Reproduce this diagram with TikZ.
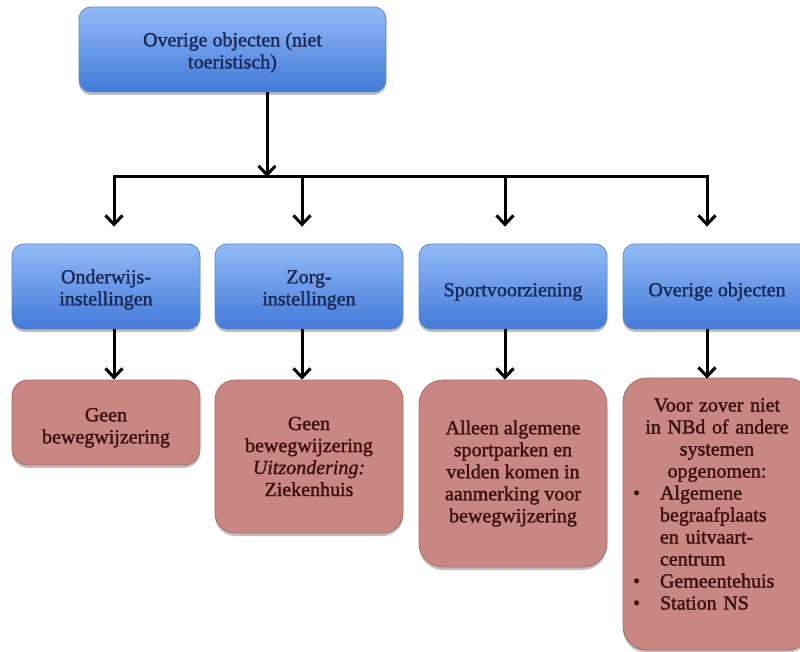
\documentclass[tikz,border=0pt]{standalone}
\usepackage{fontspec}
\setmainfont{Liberation Serif}[UprightFeatures={FakeBold=1.5},ItalicFeatures={FakeBold=1.5}]
\usetikzlibrary{arrows.meta,shadows,calc}
\definecolor{bluetop}{HTML}{92BAF6}
\definecolor{bluebot}{HTML}{427AD8}
\definecolor{blueline}{HTML}{5A86CC}
\definecolor{bluetext}{HTML}{1C2856}
\definecolor{redfill}{HTML}{C88783}
\definecolor{redline}{HTML}{A96C68}
\definecolor{redtext}{HTML}{3A1010}
\tikzset{
  bluebox/.style={rounded corners=12pt, draw=blueline, line width=0.8pt,
    top color=bluetop, bottom color=bluebot, text=bluetext, align=center,
    font=\fontsize{20}{22}\selectfont, inner sep=0pt,
    drop shadow={shadow xshift=0pt, shadow yshift=-3pt, opacity=0.35, fill=black!70}},
  redbox/.style={rounded corners=18pt, draw=redline, line width=0.8pt,
    fill=redfill, text=redtext, align=center,
    font=\fontsize{20}{22}\selectfont, inner sep=0pt, minimum width=188pt,
    drop shadow={shadow xshift=0pt, shadow yshift=-3pt, opacity=0.35, fill=black!70}},
  conn/.style={line width=3pt, black},
  arr/.style={conn, -{Straight Barb[length=9pt,width=17pt]}},
  arrs/.style={conn, {Straight Barb[length=9pt,width=17pt]}-{Straight Barb[length=9pt,width=17pt]}}
}
\begin{document}
\begin{tikzpicture}[x=1pt,y=-1pt]
\fill[white] (0,0) rectangle (800,652);
\useasboundingbox (0,0) rectangle (800,652);
% top
\node[bluebox, minimum width=307pt, minimum height=85pt] (top) at (232.5,49.5) {\rule{0pt}{20pt}Overige objecten (niet\\toeristisch)};
% blue row
\node[bluebox, minimum width=188pt, minimum height=85pt] (b1) at (106,286.5) {\rule{0pt}{20pt}Onderwijs-\\instellingen};
\node[bluebox, minimum width=188pt, minimum height=85pt] (b2) at (309,286.5) {\rule{0pt}{20pt}Zorg-\\instellingen};
\node[bluebox, minimum width=188pt, minimum height=85pt] (b3) at (513,286.5) {\rule{0pt}{24pt}Sportvoorziening};
\node[bluebox, minimum width=188pt, minimum height=85pt] (b4) at (717,286.5) {\rule{0pt}{24pt}Overige objecten};
% red row
\node[redbox, rounded corners=16pt, minimum height=85pt] (r1) at (106,422.5) {\rule{0pt}{24pt}Geen\\bewegwijzering};
\node[redbox, rounded corners=20pt, minimum height=153pt] (r2) at (309,456.5) {Geen\\bewegwijzering\\\textit{Uitzondering:}\\Ziekenhuis};
\node[redbox, rounded corners=24pt, minimum height=187pt] (r3) at (513,473.5) {Alleen algemene\\sportparken en\\velden komen in\\aanmerking voor\\bewegwijzering};
\node[redbox, rounded corners=24pt, minimum height=272pt, text width=188pt, align=left] (r4) at (717,514)
 {\makebox[\linewidth]{Voor zover niet}\\
  \makebox[\linewidth]{in NBd of andere}\\
  \makebox[\linewidth]{systemen}\\
  \makebox[\linewidth]{opgenomen:}\\
  \hspace*{10pt}\makebox[27pt][l]{\textbullet}Algemene\\
  \hspace*{37pt}begraafplaats\\
  \hspace*{37pt}en uitvaart-\\
  \hspace*{37pt}centrum\\
  \hspace*{10pt}\makebox[27pt][l]{\textbullet}Gemeentehuis\\
  \hspace*{10pt}\makebox[27pt][l]{\textbullet}Station NS\par\vspace{20pt}\hrule height0pt};
% connector coordinates
\coordinate (bus) at (267,177);
\coordinate (j1) at (114,177);
\coordinate (j2) at (302,177);
\coordinate (j3) at (505,177);
\coordinate (j4) at (707,177);
% connectors
\draw[arr] (top.south -| bus) -- (bus);
\draw[arrs] ($(b1.north -| j1)+(0,-17)$) -- (j1) -- (j4) -- ($(b4.north -| j4)+(0,-17)$);
\draw[arr] (j2) -- ($(b2.north -| j2)+(0,-17)$);
\draw[arr] (j3) -- ($(b3.north -| j3)+(0,-17)$);
\draw[arr] (b1.south -| j1) -- (r1.north -| j1);
\draw[arr] (b2.south -| j2) -- (r2.north -| j2);
\draw[arr] (b3.south -| j3) -- (r3.north -| j3);
\draw[arr] (b4.south -| j4) -- ($(r4.north -| j4)+(0,1)$);
\end{tikzpicture}
\end{document}
